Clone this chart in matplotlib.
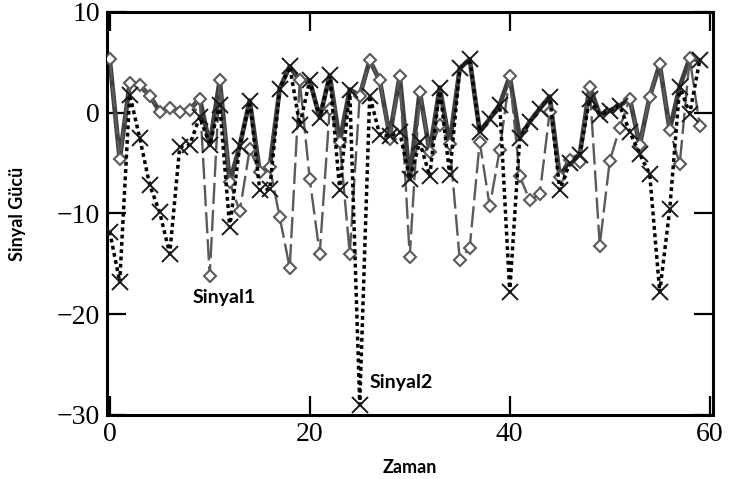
import numpy as np
import matplotlib.pyplot as plt

# zaman ekseni ve iki sinyalin ölçülen güçleri
zaman = np.arange(60)
sinyal1 = [5.3, -4.6, 2.9, 2.7, 1.7, 0.1, 0.5, 0.1, 0.3, 1.4,
           -16.2, 3.2, -6.9, -9.8, -3.6, -5.9, -5.4, -10.4, -15.4, 3.2,
           -6.6, -14.0, 0.4, -2.9, -14.0, 1.7, 5.2, 3.2, -2.6, 3.6,
           -14.3, 2.1, -3.9, -1.2, -3.1, -14.6, -13.4, -2.9, -9.3, -3.7,
           3.6, -6.3, -8.7, -8.1, 0.1, -6.4, -4.7, -4.9, 2.6, -13.2,
           -4.8, -1.5, 1.4, -3.2, 1.6, 4.8, -1.7, -5.1, 5.4, -1.3]
sinyal2 = [-11.8, -16.8, 1.8, -2.5, -7.2, -9.9, -14.0, -3.4, -3.2, -0.4,
           -3.2, 0.8, -11.4, -3.3, 1.2, -7.7, -7.6, 2.4, 4.6, -1.2,
           3.2, -0.5, 3.7, -7.7, 2.3, -29.0, 1.7, -2.2, -2.3, -1.9,
           -6.6, -2.9, -6.3, 2.5, -6.2, 4.4, 5.3, -1.9, -0.6, 0.8,
           -17.8, -2.5, -0.9, 0.4, 1.6, -7.7, -5.0, -4.2, 1.4, -0.2,
           0.2, 0.7, -1.9, -4.1, -6.1, -17.8, -9.6, 2.6, -0.1, 5.2]

# her anda iki sinyalden güçlü olanı
ust_zarf = np.maximum(sinyal1, sinyal2)

plt.rcParams['font.family'] = ['Liberation Serif']
fig = plt.figure(figsize=(7.31, 4.79), dpi=100)
ax = fig.add_axes([0.146, 0.134, 0.829, 0.841])

ax.plot(zaman, ust_zarf, color='#404040', lw=3.4, zorder=2)
ax.plot(zaman, sinyal1, color='#5a5a5a', lw=1.7, dashes=(9, 2.5),
        marker='D', ms=6.5, mfc='white', mec='#5a5a5a', mew=1.5, zorder=3)
ax.plot(zaman, sinyal2, color='black', lw=2.5, dashes=(1.1, 1.0),
        marker='x', ms=11, mec='#1a1a1a', mew=1.4, zorder=4)

ax.text(11.4, -18.4, 'Sinyal1', family='Lato', fontweight='bold', fontsize=14,
        ha='center', va='center')
ax.text(26.0, -26.8, 'Sinyal2', family='Lato', fontweight='bold', fontsize=14,
        ha='left', va='center')

ax.set_xlim(-0.3, 60.3)
ax.set_ylim(-30, 10)
ax.set_xticks([0, 20, 40, 60])
ax.set_yticks([-30, -20, -10, 0, 10])
ax.tick_params(direction='in', length=14, width=1.6, top=True, right=True,
               labelsize=20, pad=5)
for s in ax.spines.values():
    s.set_linewidth(2.2)

ax.set_xlabel('Zaman', family='Lato', fontweight='bold', fontsize=13, labelpad=9)
ax.set_ylabel('Sinyal Gücü', family='Lato', fontweight='bold', fontsize=13, labelpad=22)

fig.savefig('out.png', dpi=100)
